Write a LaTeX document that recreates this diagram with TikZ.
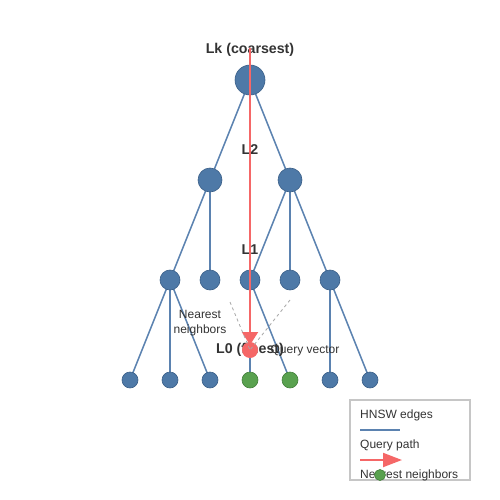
\documentclass[tikz,border=0pt]{standalone}
\usepackage{fontspec}
\setmainfont{Liberation Sans}
\usetikzlibrary{arrows.meta}
\definecolor{nblue}{HTML}{4E79A7}
\definecolor{nbord}{HTML}{3A5F88}
\definecolor{eblue}{HTML}{5B82B0}
\definecolor{qred}{HTML}{F56767}
\definecolor{ngreen}{HTML}{59A14F}
\definecolor{ngbord}{HTML}{44803C}
\definecolor{txt}{HTML}{333333}
\tikzset{
  hn/.style={circle,fill=nblue,draw=nbord,line width=0.6pt,inner sep=0pt,minimum size=#1},
  gn/.style={circle,fill=ngreen,draw=ngbord,line width=0.6pt,inner sep=0pt,minimum size=#1},
  edge/.style={draw=eblue,line width=1.5pt},
  lvl/.style={font=\bfseries\fontsize{14.2}{16}\selectfont,text=txt},
  ann/.style={font=\fontsize{12}{15}\selectfont,text=txt,align=center},
  qpath/.style={draw=qred,line width=2pt},
  nnline/.style={draw=gray!70,dashed,line width=0.8pt},
}
\begin{document}
\begin{tikzpicture}[x=1pt,y=-1pt]
\useasboundingbox (0,0) rectangle (500,500);
% nodes coordinates
\coordinate (k) at (250,80);
\coordinate (a1) at (210,180); \coordinate (a2) at (290,180);
\foreach \i/\x in {1/170,2/210,3/250,4/290,5/330} {\coordinate (b\i) at (\x,280);}
\foreach \i/\x in {1/130,2/170,3/210,4/250,5/290,6/330,7/370} {\coordinate (c\i) at (\x,380);}
% edges
\draw[edge] (k) -- (a1); \draw[edge] (k) -- (a2);
\draw[edge] (a1) -- (b1); \draw[edge] (a1) -- (b2);
\draw[edge] (a2) -- (b3); \draw[edge] (a2) -- (b4); \draw[edge] (a2) -- (b5);
\draw[edge] (b1) -- (c1); \draw[edge] (b1) -- (c2); \draw[edge] (b1) -- (c3);
\draw[edge] (b3) -- (c4); \draw[edge] (b3) -- (c5);
\draw[edge] (b5) -- (c6); \draw[edge] (b5) -- (c7);
% node circles
\node[hn=30pt] (K) at (k) {};
\node[hn=24pt] (A1) at (a1) {}; \node[hn=24pt] (A2) at (a2) {};
\foreach \i in {1,...,5} {\node[hn=20pt] (B\i) at (b\i) {};}
\foreach \i in {1,2,3,6,7} {\node[hn=16pt] (C\i) at (c\i) {};}
\node[gn=16pt] (C4) at (c4) {}; \node[gn=16pt] (C5) at (c5) {};
% level labels
\node[lvl] (lk) at (250,50) {Lk (coarsest)};
\node[lvl] (l2) at (250,150) {L2};
\node[lvl] (l1) at (250,250) {L1};
\node[lvl] (l0) at (250,350) {L0 (finest)};
% annotations
\node[ann] (nn) at (200,323) {Nearest\\neighbors};
\node[ann] (qv) at (305,351) {Query vector};
% query path
\coordinate (qs) at (250,48);
\node[circle,fill=qred,inner sep=0pt,minimum size=16pt] (Q) at (250,350) {};
\draw[qpath,-{Triangle[width=16pt,length=13pt]}] (qs) -- (250,345);
\coordinate (d1) at (230,302); \coordinate (d2) at (290,300);
\draw[nnline] (d1) -- (Q.center); \draw[nnline] (d2) -- (Q.center);
% legend
\node[draw=gray!45,line width=1.2pt,minimum width=120pt,minimum height=80pt,inner sep=0pt] (leg) at (410,440) {};
\node[ann,anchor=west,inner sep=0pt] (le1) at (360,415) {HNSW edges};
\coordinate (l1a) at (360,430); \coordinate (l1b) at (400,430);
\draw[edge] (l1a) -- (l1b);
\node[ann,anchor=west,inner sep=0pt] (le2) at (360,445) {Query path};
\coordinate (l2a) at (360,460); \coordinate (l2b) at (402,460);
\draw[qpath,-{Triangle[width=14pt,length=19pt]}] (l2a) -- (l2b);
\node[ann,anchor=west,inner sep=0pt] (le3) at (360,475) {Nearest neighbors};
\node[gn=11pt] (lg) at (380,475) {};
\end{tikzpicture}
\end{document}
